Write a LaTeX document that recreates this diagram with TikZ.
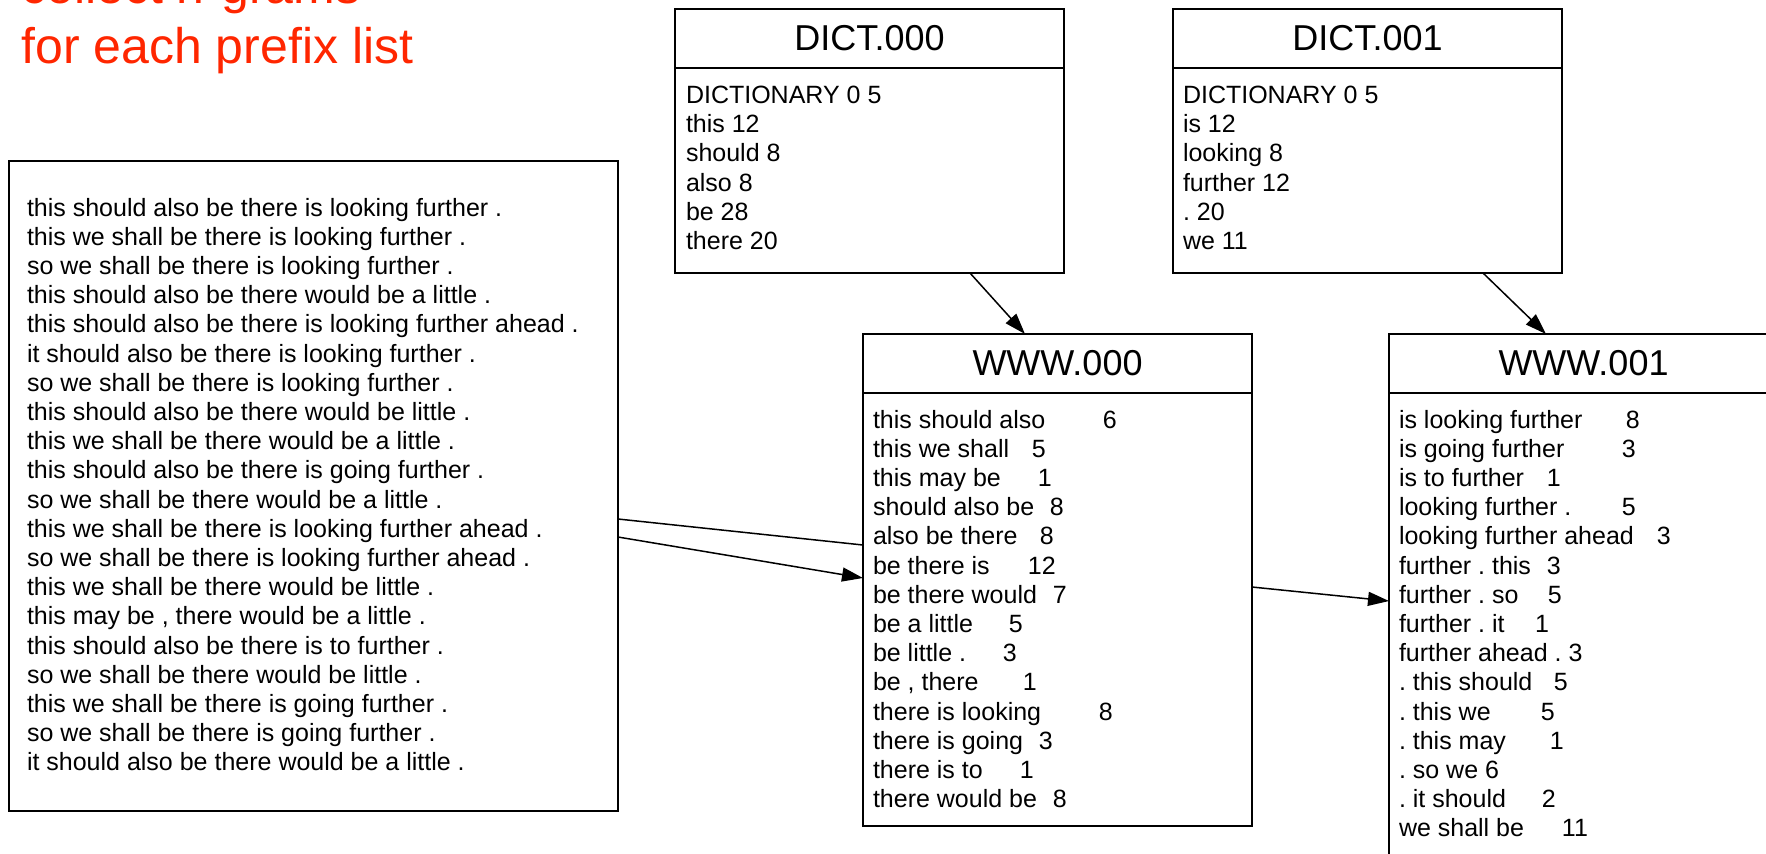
\documentclass[tikz,border=0pt]{standalone}
\usepackage{fontspec}
\setmainfont{Liberation Sans}
\usetikzlibrary{arrows.meta, positioning}
\definecolor{titleRed}{RGB}{255,38,0}
\frenchspacing
\tikzstyle{fileHead}=[draw, line width=1pt, outer sep=0pt, inner sep=0pt, minimum width=194.5pt, minimum height=29.5pt, font=\fontsize{18}{21.6}\selectfont]
\tikzstyle{fileBody}=[draw, line width=1pt, outer sep=0pt, inner sep=0pt, minimum width=194.5pt]
\tikzstyle{gramList}=[inner sep=0pt, outer sep=0pt, align=left, anchor=north west, font=\fontsize{12.5}{14.6}\selectfont]
\tikzstyle{title}=[inner sep=0pt, align=left, anchor=north west, text=titleRed, font=\fontsize{25}{30}\selectfont]
\tikzstyle{flow}=[line width=0.75pt, -{Triangle[length=10.5pt,width=7pt]}]
\newcommand{\gram}[3]{\makebox[#1pt][l]{#2}#3}

\begin{document}
\begin{tikzpicture}[x=0.5pt, y=-0.5pt]
    \useasboundingbox (0,0) rectangle (1766,853);

    \node[title] (title) at (21,-33) {collect n-grams\\for each prefix list};

    % input sentences
    \node[fileBody, anchor=north west, minimum width=304.5pt, minimum height=325pt] (corpus) at (9,161) {};
    \node[gramList] (corpusText) at ([shift={(18,37)}]corpus.north west) {this should also be there is looking further .\\
        this we shall be there is looking further .\\
        so we shall be there is looking further .\\
        this should also be there would be a little .\\
        this should also be there is looking further ahead .\\
        it should also be there is looking further .\\
        so we shall be there is looking further .\\
        this should also be there would be little .\\
        this we shall be there would be a little .\\
        this should also be there is going further .\\
        so we shall be there would be a little .\\
        this we shall be there is looking further ahead .\\
        so we shall be there is looking further ahead .\\
        this we shall be there would be little .\\
        this may be , there would be a little .\\
        this should also be there is to further .\\
        so we shall be there would be little .\\
        this we shall be there is going further .\\
        so we shall be there is going further .\\
        it should also be there would be a little .};

    % dictionaries
    \node[fileHead, anchor=north west] (d0head) at (675,9) {DICT.000};
    \node[fileBody, below=0pt of d0head, minimum height=102.5pt] (d0body) {};
    \node[gramList] (d0list) at ([shift={(11,18)}]d0body.north west) {DICTIONARY 0 5\\this 12\\should 8\\also 8\\be 28\\there 20};

    \node[fileHead, anchor=north west] (d1head) at (1173,9) {DICT.001};
    \node[fileBody, below=0pt of d1head, minimum height=102.5pt] (d1body) {};
    \node[gramList] (d1list) at ([shift={(10,18)}]d1body.north west) {DICTIONARY 0 5\\is 12\\looking 8\\further 12\\. 20\\we 11};

    % n-gram counts
    \node[fileHead, anchor=north west] (w0head) at (863,334) {WWW.000};
    \node[fileBody, below=0pt of w0head, minimum height=216.5pt] (w0body) {};
    \node[gramList] (w0list) at ([shift={(10,17)}]w0body.north west) {\gram{115}{this should also}{6}\\
        \gram{79.5}{this we shall}{5}\\
        \gram{82.5}{this may be}{1}\\
        \gram{88.5}{should also be}{8}\\
        \gram{83.5}{also be there}{8}\\
        \gram{77.5}{be there is}{12}\\
        \gram{90}{be there would}{7}\\
        \gram{68}{be a little}{5}\\
        \gram{65}{be little .}{3}\\
        \gram{75}{be , there}{1}\\
        \gram{113}{there is looking}{8}\\
        \gram{83}{there is going}{3}\\
        \gram{73.5}{there is to}{1}\\
        \gram{90}{there would be}{8}};

    \node[fileHead, anchor=north west] (w1head) at (1389,334) {WWW.001};
    \node[fileBody, below=0pt of w1head, minimum height=240pt] (w1body) {};
    \node[gramList] (w1list) at ([shift={(10,17)}]w1body.north west) {\gram{113.5}{is looking further}{8}\\
        \gram{111.5}{is going further}{3}\\
        \gram{74}{is to further}{1}\\
        \gram{111.5}{looking further .}{5}\\
        \gram{129}{looking further ahead}{3}\\
        \gram{74}{further . this}{3}\\
        \gram{74.5}{further . so}{5}\\
        \gram{68}{further . it}{1}\\
        further ahead . 3\\
        \gram{77.5}{. this should}{5}\\
        \gram{71}{. this we}{5}\\
        \gram{75.5}{. this may}{1}\\
        . so we 6\\
        \gram{71.5}{. it should}{2}\\
        \gram{81.5}{we shall be}{11}};

    \draw[flow] ([xshift=50.25pt]d0body.south) -- ([xshift=-16.25pt]w0head.north);
    \draw[flow] ([xshift=57.75pt]d1body.south) -- ([xshift=-18.75pt]w1head.north);
    \draw[line width=0.75pt] ([yshift=-16.5pt]corpus.east) -- ([yshift=32.25pt]w0body.west);
    \draw[flow] ([yshift=-25.5pt]corpus.east) -- ([yshift=15.75pt]w0body.west);
    \draw[flow] ([yshift=11.25pt]w0body.east) -- ([yshift=16pt]w1body.west);

\end{tikzpicture}
\end{document}
